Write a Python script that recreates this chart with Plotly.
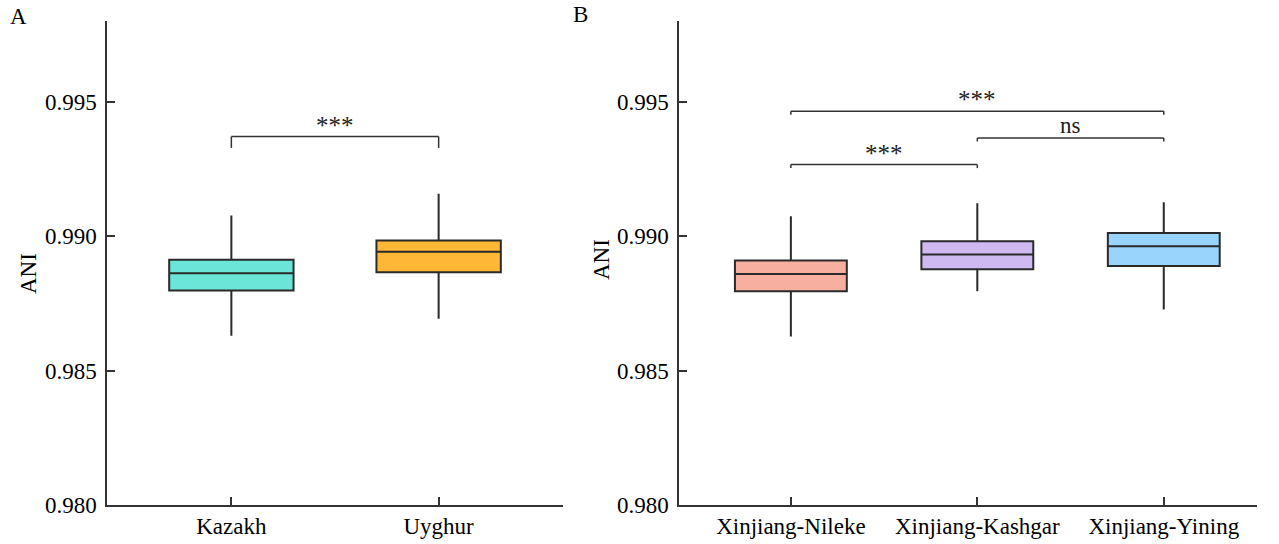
import plotly.graph_objects as go

# ---- data ----
groups_a = ["Kazakh", "Uyghur"]
lower_a = [0.98629, 0.98693]
q1_a = [0.98798, 0.98866]
median_a = [0.98862, 0.98942]
q3_a = [0.98912, 0.98984]
upper_a = [0.99077, 0.99158]
colors_a = ["#6BE5D7", "#FFB735"]

groups_b = ["Xinjiang-Nileke", "Xinjiang-Kashgar", "Xinjiang-Yining"]
lower_b = [0.98627, 0.98795, 0.98727]
q1_b = [0.98795, 0.98877, 0.98889]
median_b = [0.98859, 0.98932, 0.98962]
q3_b = [0.98909, 0.98981, 0.99012]
upper_b = [0.99074, 0.99122, 0.99126]
colors_b = ["#F7B0A0", "#CEB9F1", "#98D4FC"]

y_ticks = [0.980, 0.985, 0.990, 0.995]
y_ticktext = ["0.980", "0.985", "0.990", "0.995"]

# significance brackets: (panel, left idx, right idx, y level, label)
brackets = [
    ("a", 0, 1, 0.99370, "***"),
    ("b", 0, 2, 0.99464, "***"),
    ("b", 1, 2, 0.99365, "ns"),
    ("b", 0, 1, 0.99266, "***"),
]

FONT = "Liberation Serif, Times New Roman, serif"
LINE = "#333333"
fig = go.Figure()

for i, g in enumerate(groups_a):
    fig.add_trace(go.Box(
        x=[g], q1=[q1_a[i]], median=[median_a[i]], q3=[q3_a[i]],
        lowerfence=[lower_a[i]], upperfence=[upper_a[i]],
        fillcolor=colors_a[i], line=dict(color="#2a2a2a", width=2),
        whiskerwidth=0, width=0.6, xaxis="x", yaxis="y",
        showlegend=False, hoverinfo="skip",
    ))
for i, g in enumerate(groups_b):
    fig.add_trace(go.Box(
        x=[g], q1=[q1_b[i]], median=[median_b[i]], q3=[q3_b[i]],
        lowerfence=[lower_b[i]], upperfence=[upper_b[i]],
        fillcolor=colors_b[i], line=dict(color="#2a2a2a", width=2),
        whiskerwidth=0, width=0.6, xaxis="x2", yaxis="y2",
        showlegend=False, hoverinfo="skip",
    ))

ydom = [(544 - 505) / 544, (544 - 21) / 544]
axis_common = dict(
    showline=True, linecolor=LINE, linewidth=1.5, showgrid=False, zeroline=False,
    ticks="inside", ticklen=8, tickwidth=1.5, tickcolor=LINE, automargin=False,
    tickfont=dict(family=FONT, size=23, color="black"),
)
yaxis_common = dict(axis_common, range=[0.980, 0.998], tickvals=y_ticks,
                    ticktext=y_ticktext, ticklabelstandoff=4)

shapes = []
annotations = []
for panel, a, b, yv, label in brackets:
    xr, yr = ("x", "y") if panel == "a" else ("x2", "y2")
    drop = 0.00042 if panel == "a" else 0.00013
    shapes.append(dict(type="line", xref=xr, yref=yr, x0=a, x1=b, y0=yv, y1=yv,
                       line=dict(color=LINE, width=1.5)))
    shapes.append(dict(type="line", xref=xr, yref=yr, x0=a, x1=a, y0=yv, y1=yv - drop,
                       line=dict(color=LINE, width=1.5)))
    shapes.append(dict(type="line", xref=xr, yref=yr, x0=b, x1=b, y0=yv, y1=yv - drop,
                       line=dict(color=LINE, width=1.5)))
    annotations.append(dict(
        xref=xr, yref=yr, x=(a + b) / 2, y=yv, text=label, showarrow=False,
        xanchor="center", yanchor="bottom",
        yshift=(-4 if label == "***" else -2),
        font=dict(family=FONT, size=(25 if label == "***" else 23), color="#222222"),
    ))

annotations += [
    dict(xref="paper", yref="paper", x=8 / 1279, y=1 - 16 / 544, text="A",
         showarrow=False, xanchor="left", yanchor="middle",
         font=dict(family=FONT, size=23, color="black")),
    dict(xref="paper", yref="paper", x=571 / 1279, y=1 - 14 / 544, text="B",
         showarrow=False, xanchor="left", yanchor="middle",
         font=dict(family=FONT, size=23, color="black")),
    dict(xref="paper", yref="paper", x=28 / 1279, y=1 - 274 / 544, text="ANI",
         showarrow=False, textangle=-90, xanchor="center", yanchor="middle",
         font=dict(family=FONT, size=23, color="black")),
    dict(xref="paper", yref="paper", x=601 / 1279, y=1 - 260 / 544, text="ANI",
         showarrow=False, textangle=-90, xanchor="center", yanchor="middle",
         font=dict(family=FONT, size=23, color="black")),
]

fig.update_layout(
    width=1279, height=544,
    margin=dict(l=0, r=0, t=0, b=0, autoexpand=False),
    paper_bgcolor="white", plot_bgcolor="white",
    xaxis=dict(axis_common, domain=[107 / 1279, 563 / 1279], range=[-0.6, 1.6],
               type="category", anchor="y"),
    yaxis=dict(yaxis_common, domain=ydom, anchor="x"),
    xaxis2=dict(axis_common, domain=[679 / 1279, 1257 / 1279], range=[-0.6, 2.5],
                type="category", anchor="y2"),
    yaxis2=dict(yaxis_common, domain=ydom, anchor="x2"),
    shapes=shapes, annotations=annotations,
    boxmode="overlay",
)

fig.write_html(
    "out.html",
    config={"displayModeBar": False},
    post_script="document.body.style.margin='0';document.body.style.overflow='hidden';",
)
